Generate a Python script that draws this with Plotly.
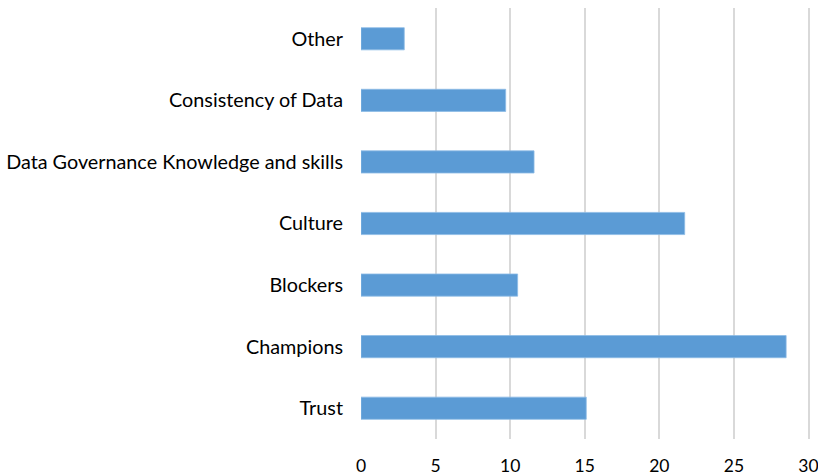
import plotly.graph_objects as go

categories = ["Trust", "Champions", "Blockers", "Culture",
              "Data Governance Knowledge and skills", "Consistency of Data", "Other"]
values = [15.1, 28.5, 10.5, 21.7, 11.6, 9.7, 2.9]
x_ticks = [0, 5, 10, 15, 20, 25, 30]

fig = go.Figure(go.Bar(
    y=categories, x=values, orientation="h",
    marker=dict(color="#5b9bd5", line=dict(color="#8dbbe6", width=0.8)),
))

fig.update_layout(
    width=818, height=476,
    margin=dict(l=361, r=8, t=8, b=37),
    plot_bgcolor="white", paper_bgcolor="white",
    bargap=0.64,
    showlegend=False,
    font=dict(family="Lato, Open Sans, sans-serif", size=19.8, color="#000000"),
)
fig.update_xaxes(range=[0, 30.1], tickvals=x_ticks, showgrid=True,
                 gridcolor="#d9d9d9", gridwidth=2, zeroline=False,
                 showline=False, ticks="", ticklabelstandoff=14,
                 ticklabeloverflow="allow", tickfont=dict(size=17.5),
                 automargin=False, fixedrange=True)
fig.update_yaxes(categoryorder="array", categoryarray=categories,
                 showgrid=False, zeroline=False, showline=False,
                 ticks="", ticklabelstandoff=17, automargin=False,
                 fixedrange=True)

fig.write_html("out.html", config={"displayModeBar": False},
               post_script="document.body.style.margin='0';")
